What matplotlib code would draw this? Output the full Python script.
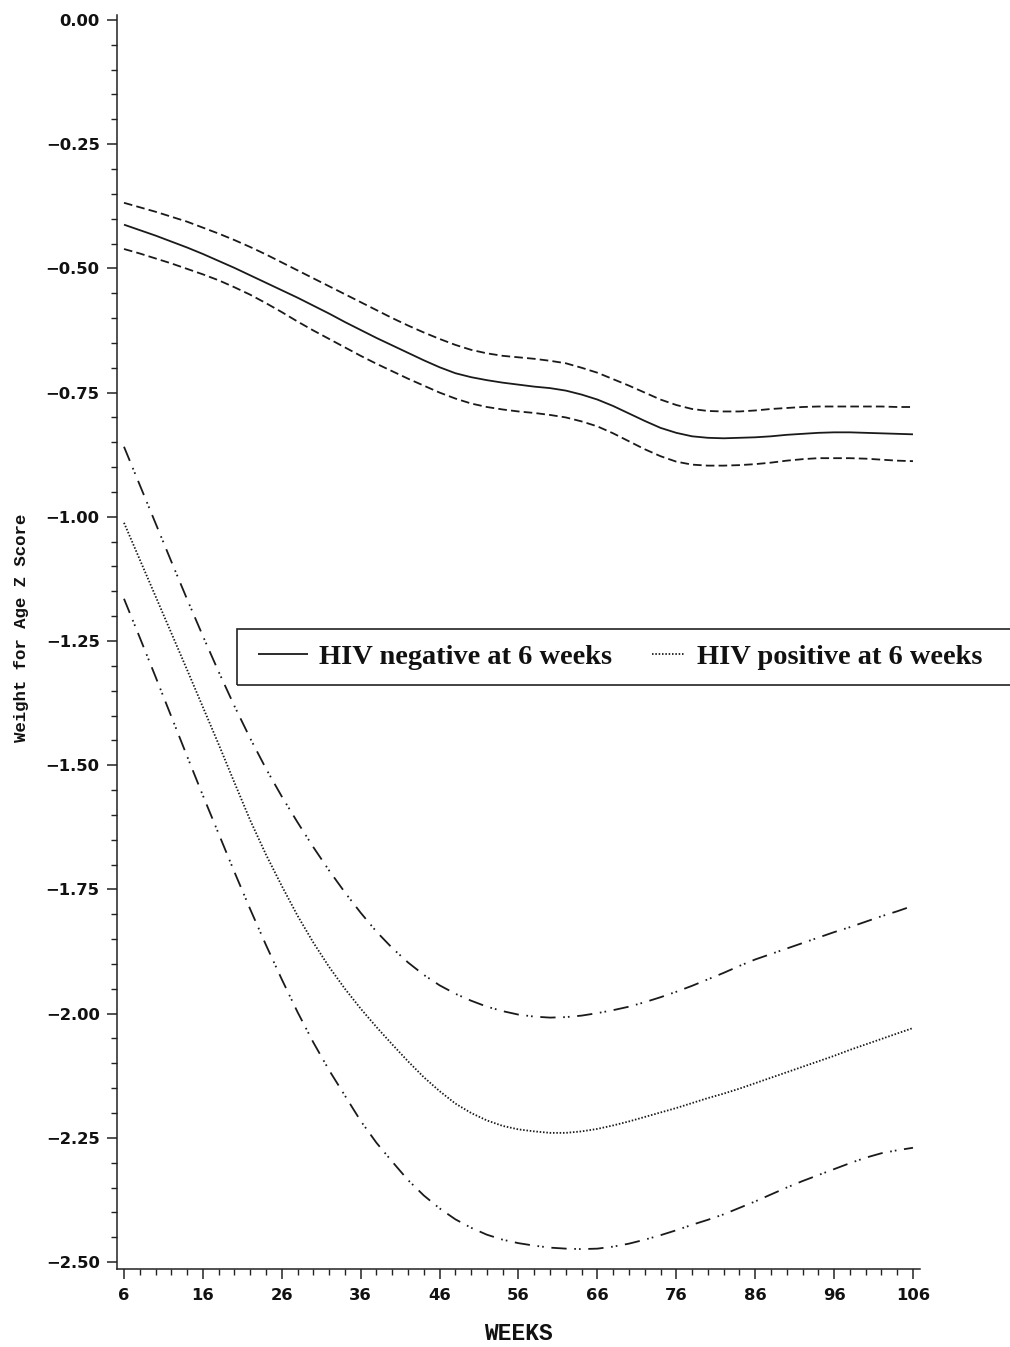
import matplotlib
matplotlib.use("Agg")
import matplotlib.pyplot as plt
from matplotlib.ticker import FixedLocator, MultipleLocator
from matplotlib.patches import Rectangle
from matplotlib.legend_handler import HandlerLine2D

plt.rcParams['lines.scale_dashes'] = False

# weeks since birth, every 2 weeks
weeks = list(range(6, 107, 2))

# HIV negative at 6 weeks: mean and 95% band
neg_mean = [-0.412, -0.423, -0.434, -0.446, -0.458, -0.471, -0.485, -0.499, -0.514, -0.529,
            -0.544, -0.559, -0.575, -0.591, -0.608, -0.624, -0.640, -0.655, -0.670, -0.685,
            -0.699, -0.711, -0.719, -0.725, -0.730, -0.734, -0.738, -0.741, -0.746, -0.754,
            -0.764, -0.777, -0.792, -0.807, -0.821, -0.831, -0.838, -0.841, -0.842, -0.841,
            -0.840, -0.838, -0.835, -0.833, -0.831, -0.830, -0.830, -0.831, -0.832, -0.833,
            -0.834]
neg_upper = [-0.368, -0.377, -0.386, -0.396, -0.406, -0.418, -0.430, -0.443, -0.457, -0.472,
             -0.488, -0.504, -0.520, -0.536, -0.552, -0.568, -0.584, -0.600, -0.615, -0.629,
             -0.642, -0.654, -0.664, -0.671, -0.676, -0.679, -0.682, -0.686, -0.691, -0.700,
             -0.710, -0.723, -0.736, -0.750, -0.764, -0.775, -0.783, -0.787, -0.788, -0.788,
             -0.786, -0.783, -0.781, -0.779, -0.778, -0.778, -0.778, -0.778, -0.778, -0.779,
             -0.779]
neg_lower = [-0.461, -0.470, -0.480, -0.490, -0.501, -0.512, -0.524, -0.538, -0.553, -0.570,
             -0.588, -0.607, -0.625, -0.642, -0.659, -0.676, -0.692, -0.707, -0.722, -0.736,
             -0.750, -0.762, -0.772, -0.779, -0.784, -0.788, -0.791, -0.795, -0.800, -0.808,
             -0.818, -0.832, -0.848, -0.864, -0.878, -0.889, -0.895, -0.897, -0.897, -0.896,
             -0.894, -0.891, -0.887, -0.884, -0.882, -0.882, -0.882, -0.883, -0.885, -0.887,
             -0.888]

# HIV positive at 6 weeks: mean and 95% band
pos_mean = [-1.012, -1.086, -1.160, -1.234, -1.308, -1.383, -1.458, -1.535, -1.611, -1.680,
            -1.743, -1.803, -1.857, -1.906, -1.950, -1.990, -2.027, -2.062, -2.096, -2.128,
            -2.156, -2.181, -2.200, -2.215, -2.226, -2.233, -2.237, -2.240, -2.240, -2.237,
            -2.232, -2.225, -2.217, -2.208, -2.199, -2.190, -2.180, -2.170, -2.161, -2.151,
            -2.140, -2.129, -2.118, -2.107, -2.096, -2.085, -2.073, -2.062, -2.051, -2.040,
            -2.029]
pos_upper = [-0.859, -0.936, -1.013, -1.090, -1.166, -1.240, -1.312, -1.381, -1.446, -1.507,
             -1.563, -1.615, -1.665, -1.712, -1.756, -1.797, -1.835, -1.868, -1.897, -1.922,
             -1.943, -1.960, -1.974, -1.986, -1.995, -2.002, -2.006, -2.008, -2.007, -2.004,
             -1.999, -1.993, -1.986, -1.977, -1.967, -1.956, -1.944, -1.931, -1.918, -1.904,
             -1.891, -1.880, -1.869, -1.858, -1.847, -1.836, -1.826, -1.815, -1.804, -1.794,
             -1.783]
pos_lower = [-1.165, -1.243, -1.322, -1.402, -1.482, -1.561, -1.638, -1.715, -1.790, -1.862,
             -1.931, -1.997, -2.058, -2.114, -2.165, -2.216, -2.260, -2.298, -2.335, -2.366,
             -2.392, -2.414, -2.431, -2.445, -2.455, -2.462, -2.467, -2.471, -2.473, -2.474,
             -2.473, -2.469, -2.463, -2.455, -2.446, -2.436, -2.425, -2.415, -2.404, -2.391,
             -2.378, -2.364, -2.350, -2.337, -2.325, -2.313, -2.301, -2.290, -2.281, -2.275,
             -2.270]

xticks = [6, 16, 26, 36, 46, 56, 66, 76, 86, 96, 106]
yticks = [0.0, -0.25, -0.5, -0.75, -1.0, -1.25, -1.5, -1.75, -2.0, -2.25, -2.5]
ytick_labels = [f"{v:.2f}".replace("-", "\u2212") for v in yticks]

W, H = 1010, 1347
fig = plt.figure(figsize=(W / 100, H / 100), dpi=100)
ax = fig.add_axes([117 / W, 78 / H, 803 / W, 1254 / H])

ink = '#1a1a1a'
lw = 1.3
dash = (6.2, 3.0)
dot = (1.1, 1.3)
dashdotdot = (11, 5.5, 1.2, 2.2, 1.2, 5.5)

l_neg, = ax.plot(weeks, neg_mean, color=ink, lw=lw, solid_capstyle='butt',
                 label='HIV negative at 6 weeks')
ax.plot(weeks, neg_upper, color=ink, lw=lw, dashes=dash)
ax.plot(weeks, neg_lower, color=ink, lw=lw, dashes=dash)

l_pos, = ax.plot(weeks, pos_mean, color=ink, lw=lw, dashes=dot,
                 label='HIV positive at 6 weeks')
ax.plot(weeks, pos_upper, color=ink, lw=lw, dashes=dashdotdot)
ax.plot(weeks, pos_lower, color=ink, lw=lw, dashes=dashdotdot)

ax.set_xlim(5.114, 106.89)
ax.set_ylim(-2.514, 0.010)

for s in ('top', 'right'):
    ax.spines[s].set_visible(False)
for s in ('left', 'bottom'):
    ax.spines[s].set_linewidth(1.1)
    ax.spines[s].set_color('#222222')

ax.xaxis.set_major_locator(FixedLocator(xticks))
ax.xaxis.set_minor_locator(MultipleLocator(2))
ax.yaxis.set_major_locator(FixedLocator(yticks))
ax.yaxis.set_minor_locator(MultipleLocator(0.05))
ax.set_yticklabels(ytick_labels)
ax.set_xticklabels([str(t) for t in xticks])

ax.tick_params(which='major', direction='out', length=7.5, width=1.1, color='#222222')
ax.tick_params(which='minor', direction='out', length=4.5, width=1.0, color='#222222')
ax.tick_params(axis='y', which='major', pad=5)
ax.tick_params(axis='x', which='major', pad=6.5)
for lab in ax.get_xticklabels() + ax.get_yticklabels():
    lab.set_fontfamily('DejaVu Sans')
    lab.set_fontweight('bold')
    lab.set_fontsize(11.8)
    lab.set_color('#111111')

fig.text(518 / W, 1 - 1333 / H, 'WEEKS', ha='center', va='center',
         family='Liberation Mono', fontweight='bold', fontsize=16.5, color='#111111')
fig.text(22 / W, 1 - 628 / H, 'Weight for Age Z Score', ha='center', va='center',
         rotation=90, family='Liberation Mono', fontweight='bold', fontsize=12.5,
         color='#111111')

# dotted sample in the legend is drawn shorter than the solid one
leg = fig.legend(handles=[l_neg, l_pos], loc='center left',
                 bbox_to_anchor=(258 / W, 1 - 657 / H), bbox_transform=fig.transFigure,
                 ncol=2, frameon=False, borderpad=0, borderaxespad=0,
                 handlelength=1.75, handletextpad=0.42, columnspacing=0.8,
                 handler_map={l_pos: HandlerLine2D(xpad=0.6)},
                 prop={'family': 'Liberation Serif', 'weight': 'bold', 'size': 20.4})
for t in leg.get_texts():
    t.set_color('#111111')

box = Rectangle((237 / W, 1 - 685 / H), (1030 - 237) / W, 56 / H,
                transform=fig.transFigure, fill=False, lw=1.2, edgecolor='#222222',
                clip_on=False)
fig.add_artist(box)

fig.savefig('out.png', dpi=100)
